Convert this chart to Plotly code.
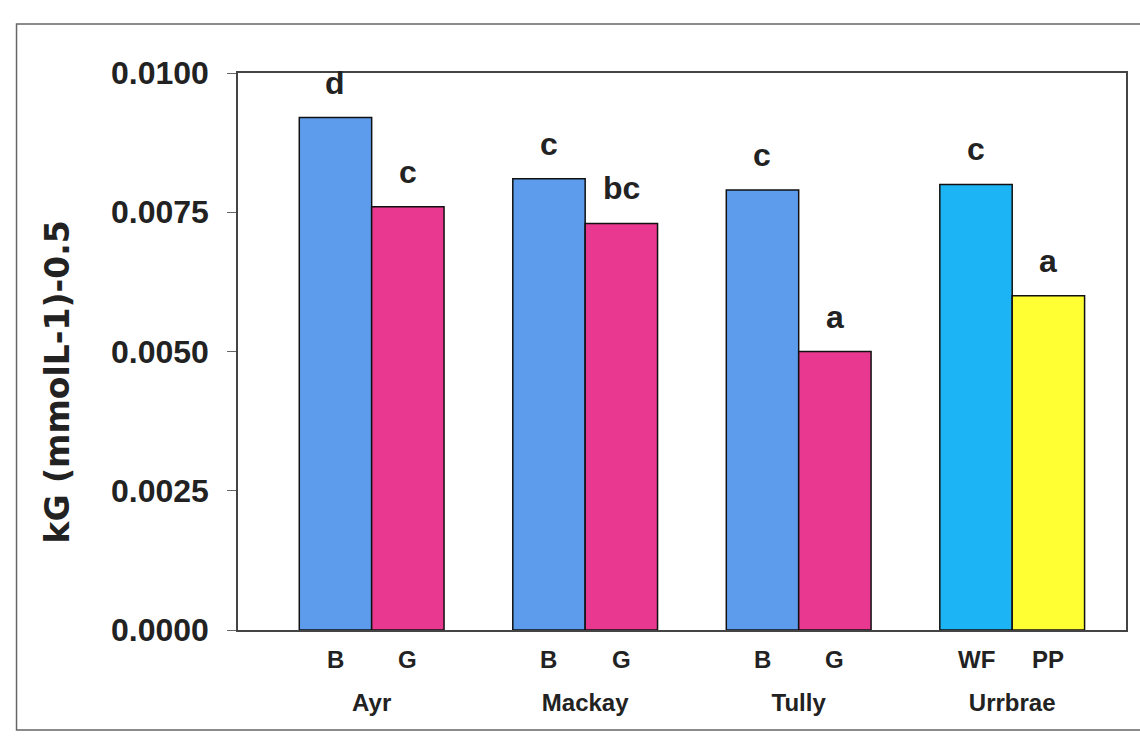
import plotly.graph_objects as go

# ---- data ----
sites = ["Ayr", "Mackay", "Tully", "Urrbrae"]
first_vals = [0.0092, 0.0081, 0.0079, 0.0080]    # B (WF for Urrbrae)
second_vals = [0.0076, 0.0073, 0.0050, 0.0060]   # G (PP for Urrbrae)
first_sub = ["B", "B", "B", "WF"]
second_sub = ["G", "G", "G", "PP"]
first_letters = ["d", "c", "c", "c"]
second_letters = ["c", "bc", "a", "a"]
y_ticks = [0.0, 0.0025, 0.0050, 0.0075, 0.0100]

# ---- styles ----
first_colors = ["#5D9CEC", "#5D9CEC", "#5D9CEC", "#1CB4F4"]
second_colors = ["#E8388F", "#E8388F", "#E8388F", "#FFFF33"]
FONT = "Arial, Liberation Sans, sans-serif"
TXT = "#222222"
BARGAP = 0.322
bw = (1 - BARGAP) / 2

fig = go.Figure()
fig.add_trace(go.Bar(x=sites, y=first_vals, marker=dict(color=first_colors, line=dict(color="#111", width=1.5)),
                     showlegend=False, hoverinfo="y"))
fig.add_trace(go.Bar(x=sites, y=second_vals, marker=dict(color=second_colors, line=dict(color="#111", width=1.5)),
                     showlegend=False, hoverinfo="y"))

annotations = []
for i in range(len(sites)):
    for vals, letters, subs, off in ((first_vals, first_letters, first_sub, -bw / 2),
                                     (second_vals, second_letters, second_sub, bw / 2)):
        annotations.append(dict(x=i + off, y=vals[i], xref="x", yref="y", text=letters[i], showarrow=False,
                                yanchor="bottom", yshift=15,
                                font=dict(family=FONT, size=32, color=TXT, weight="bold")))
        annotations.append(dict(x=i + off, y=0, xref="x", yref="y", text=subs[i], showarrow=False,
                                yanchor="top", yshift=-14,
                                font=dict(family=FONT, size=24, color=TXT, weight="bold")))

annotations.append(dict(x=-0.2034, y=0.445, xref="paper", yref="paper", text="kG (mmolL-1)-0.5",
                        showarrow=False, textangle=-90, xanchor="center", yanchor="middle",
                        font=dict(family="DejaVu Sans, sans-serif", size=33, color=TXT, weight="bold")))

fig.update_layout(
    width=1140, height=736,
    margin=dict(l=238, r=12, t=73, b=106),
    paper_bgcolor="white", plot_bgcolor="white",
    barmode="group", bargap=BARGAP, bargroupgap=0,
    annotations=annotations,
    shapes=[dict(type="rect", xref="paper", yref="paper", x0=-0.2494, x1=1.03, y0=-0.1795, y1=1.088,
                 line=dict(color="#666", width=1.5), fillcolor="rgba(0,0,0,0)", layer="below")],
    xaxis=dict(range=[-0.626, 3.533], showline=True, linecolor="#444", linewidth=1.5, mirror=True,
               ticks="", showgrid=False, ticklabelstandoff=50,
               tickfont=dict(family=FONT, size=24, color=TXT, weight="bold")),
    yaxis=dict(range=[0, 0.01], tickvals=y_ticks, tickformat=".4f", showline=True, linecolor="#444",
               linewidth=1.5, mirror=True, ticks="outside", ticklen=9, tickcolor="#666", showgrid=False,
               zeroline=False, ticklabelstandoff=12,
               tickfont=dict(family=FONT, size=32, color=TXT, weight="bold")),
)

fig.write_html("out.html")
